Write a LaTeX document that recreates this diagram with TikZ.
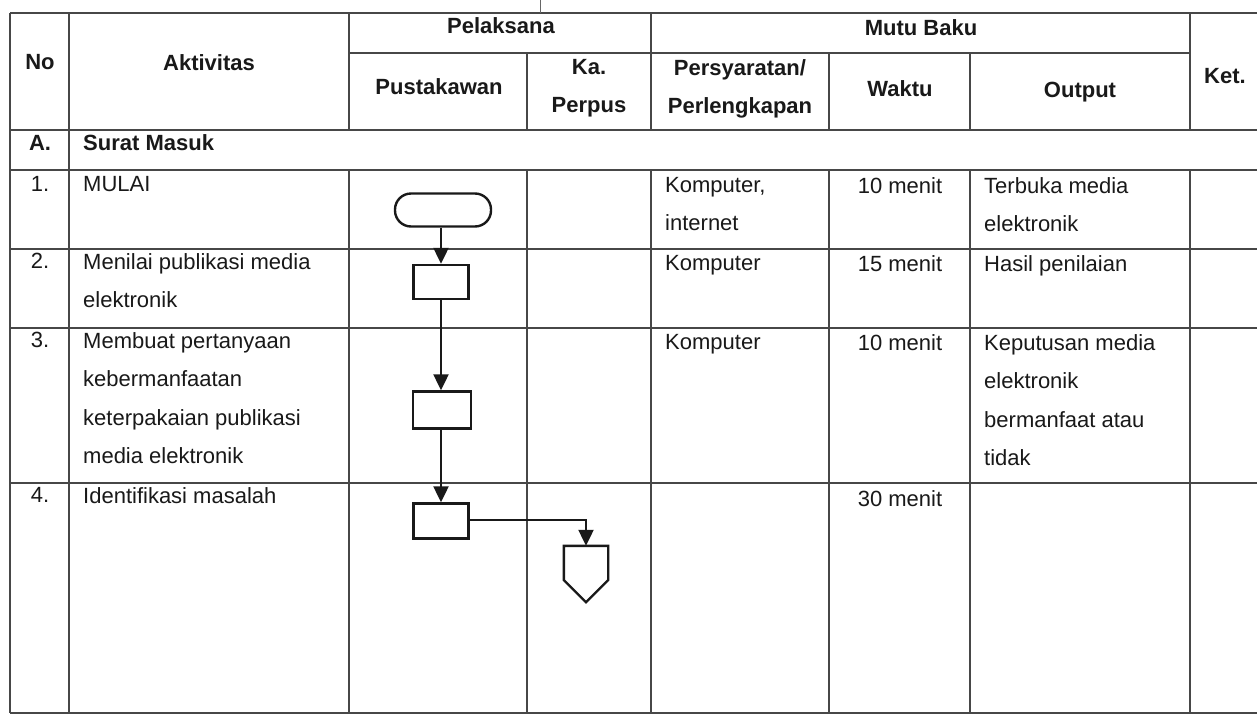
\documentclass[tikz,border=0pt]{standalone}
\usepackage{fontspec}
\setmainfont{Liberation Sans}
\usetikzlibrary{arrows.meta,calc}
\newcommand\lstk[1]{\vtop{\halign{##\hfil\cr#1\crcr}}}
\newcommand\cstk[1]{\vtop{\halign{\hfil##\hfil\cr#1\crcr}}}
\begin{document}
\begin{tikzpicture}[x=1pt,y=-1pt,
  grid/.style={draw=black!72, line width=1.1pt},
  txt/.style={inner sep=0pt, anchor=base west, text=black!90, font=\fontsize{22}{38.5}\selectfont},
  ctxt/.style={txt, anchor=base},
  hd/.style={ctxt, font=\bfseries\fontsize{22}{38.5}\selectfont},
  shp/.style={draw=black!90, line width=2.4pt, fill=white, inner sep=0pt},
  proc/.style={shp, minimum width=55pt, minimum height=34pt},
  flow/.style={draw=black!90, line width=2.2pt, -{Triangle[length=16pt,width=15pt]}}]
\useasboundingbox (0,0) rectangle (1257,715);
\fill[white] (0,0) rectangle (1257,715);
% table grid
\foreach \y in {13,130,170,249,328,483,713} \draw[grid] (10,\y) -- (1257,\y);
\draw[grid] (349,53) -- (1190,53);
\draw[grid] (10,13) -- (10,713);
\draw[grid] (69,13) -- (69,713);
\foreach \x in {349,651,1190} \draw[grid] (\x,13) -- (\x,130);
\foreach \x in {527,829,970} \draw[grid] (\x,53) -- (\x,130);
\foreach \x in {349,527,651,829,970,1190} \draw[grid] (\x,170) -- (\x,713);
\draw[draw=black!60, line width=0.8pt] (540,0) -- (540,13);
% header
\node[hd] (hno) at (40,69) {No};
\node[hd] (hakt) at (209,70) {Aktivitas};
\node[hd] (hpel) at (501,33) {Pelaksana};
\node[hd] (hpus) at (439,94) {Pustakawan};
\node[hd] (hka) at (589,74) {\cstk{Ka.\cr Perpus}};
\node[hd] (hmutu) at (921,35) {Mutu Baku};
\node[hd] (hper) at (740,75) {\cstk{Persyaratan/\cr Perlengkapan}};
\node[hd] (hwak) at (900,96) {Waktu};
\node[hd] (hout) at (1080,97) {Output};
\node[hd] (hket) at (1225,83) {Ket.};
% section A
\node[hd] (sa) at (40,150) {A.};
\node[hd, anchor=base west] (sat) at (83,150) {Surat Masuk};
% row 1
\node[ctxt] (n1) at (40,191) {1.};
\node[txt] (a1) at (83,191) {MULAI};
\node[txt] (p1) at (665,192) {\lstk{Komputer,\cr internet}};
\node[ctxt] (w1) at (900,193) {10 menit};
\node[txt] (o1) at (984,193) {\lstk{Terbuka media\cr elektronik}};
% row 2
\node[ctxt] (n2) at (40,268) {2.};
\node[txt] (a2) at (83,269) {\lstk{Menilai publikasi media\cr elektronik}};
\node[txt] (p2) at (665,270) {Komputer};
\node[ctxt] (w2) at (900,271) {15 menit};
\node[txt] (o2) at (984,271) {Hasil penilaian};
% row 3
\node[ctxt] (n3) at (40,347) {3.};
\node[txt] (a3) at (83,348) {\lstk{Membuat pertanyaan\cr kebermanfaatan\cr keterpakaian publikasi\cr media elektronik}};
\node[txt] (p3) at (665,349) {Komputer};
\node[ctxt] (w3) at (900,350) {10 menit};
\node[txt] (o3) at (984,350) {\lstk{Keputusan media\cr elektronik\cr bermanfaat atau\cr tidak}};
% row 4
\node[ctxt] (n4) at (40,502) {4.};
\node[txt] (a4) at (83,503) {Identifikasi masalah};
\node[ctxt] (w4) at (900,506) {30 menit};
% flowchart
\node[shp, rounded corners=16pt, minimum width=96pt, minimum height=33pt] (term) at (443,210) {};
\node[proc] (r2) at (441,282) {};
\node[proc, minimum width=58pt, minimum height=37pt] (r3) at (442,410) {};
\node[proc, minimum height=35pt] (r4) at (441,521) {};
\node[inner sep=0pt, minimum width=44pt, minimum height=56pt] (off) at (586,574) {};
\draw[shp] (off.north west) -- (off.north east) -- ([yshift=-6pt]off.east) -- (off.south) -- ([yshift=-6pt]off.west) -- cycle;
\draw[flow] (term.south -| r2.north) -- (r2.north);
\draw[flow] (r2.south) -- (r2.south |- r3.north);
\draw[flow] (r3.south -| r4.north) -- (r4.north);
\draw[flow] ([yshift=1pt]r4.east) -| (off.north);
\end{tikzpicture}
\end{document}
